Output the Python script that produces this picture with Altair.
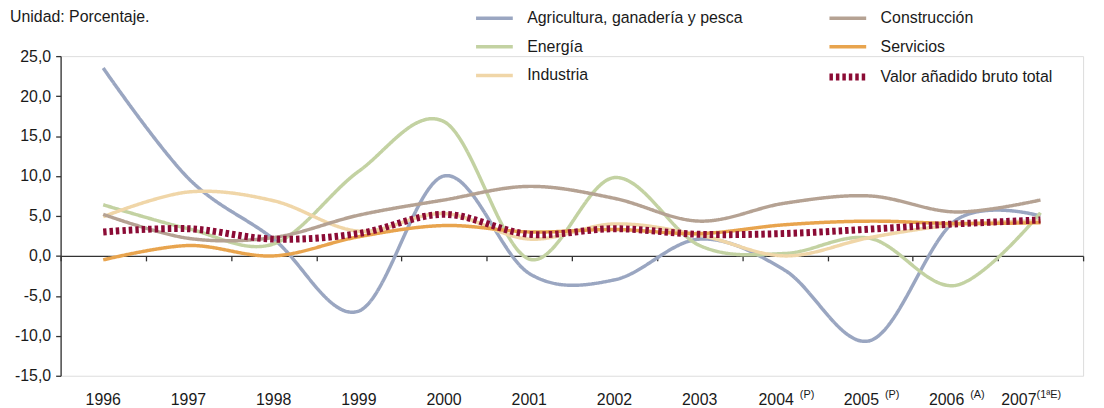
import altair as alt
import pandas as pd

# ---------------- data ----------------
years = [1996, 1997, 1998, 1999, 2000, 2001, 2002, 2003, 2004, 2005, 2006, 2007]
year_labels = ["1996", "1997", "1998", "1999", "2000", "2001", "2002", "2003",
               "2004", "2005", "2006", "2007"]
year_sups = ["", "", "", "", "", "", "", "", "(P)", "(P)", "(A)", "(1ªE)"]

agricultura = [23.5, 9.7, 2.1, -6.9, 10.0, -2.2, -3.0, 2.1, -1.8, -10.6, 4.4, 5.0]
energia = [6.4, 3.4, 1.5, 10.6, 16.8, -0.4, 9.8, 1.3, 0.3, 2.2, -3.7, 5.4]
industria = [4.9, 8.0, 6.9, 3.1, 5.3, 2.1, 4.0, 2.6, 0.0, 2.3, 3.9, 4.4]
construccion = [5.2, 2.2, 2.3, 5.1, 7.0, 8.7, 7.2, 4.35, 6.6, 7.5, 5.5, 7.0]
servicios = [-0.5, 1.3, 0.0, 2.4, 3.8, 3.0, 3.3, 2.8, 3.9, 4.35, 4.05, 4.15]
vab_total = [3.0, 3.4, 2.1, 2.8, 5.2, 2.7, 3.4, 2.7, 2.8, 3.35, 4.0, 4.5]

n_agri = "Agricultura, ganadería y pesca"
n_ener = "Energía"
n_ind = "Industria"
n_cons = "Construcción"
n_serv = "Servicios"
n_tot = "Valor añadido bruto total"

series = [(n_agri, agricultura), (n_ener, energia), (n_ind, industria),
          (n_cons, construccion), (n_serv, servicios), (n_tot, vab_total)]

rows = []
for name, vals in series:
    for yr, v in zip(years, vals):
        rows.append({"anio": yr, "serie": name, "valor": v})
df = pd.DataFrame(rows)
df_lines = df[df.serie != n_tot]
df_total = df[df.serie == n_tot]

lab_df = pd.DataFrame({"anio": years, "lab": year_labels, "sup": year_sups})
plain_df = lab_df[lab_df.sup == ""]
mid_df = lab_df[lab_df.anio.isin([2004, 2005, 2006])]
last_df = lab_df[lab_df.anio == 2007]

# legend order (column-major, 2 columns)
legend_order = [n_agri, n_ener, n_ind, n_cons, n_serv, n_tot]
color_map = {n_agri: "#9AA6C1", n_ener: "#C3D2A2", n_ind: "#F0D6A8",
             n_cons: "#B5A293", n_serv: "#E8A44E", n_tot: "#8B0B35"}

FONT = "Liberation Sans"
W, H = 1030, 322

color_scale = alt.Scale(domain=legend_order, range=[color_map[n] for n in legend_order])
dash_scale = alt.Scale(domain=legend_order,
                       range=[[3.5, 3] if n == n_tot else [1, 0] for n in legend_order])
width_scale = alt.Scale(type="ordinal", domain=legend_order,
                        range=[7 if n == n_tot else 3.5 for n in legend_order])

legend = alt.Legend(title=None, orient="none", legendX=415, legendY=-59,
                    columns=2, symbolType="stroke", symbolSize=1369,
                    labelFontSize=16, labelFont=FONT, labelColor="#1a1a1a",
                    columnPadding=72, rowPadding=0, labelOffset=11,
                    padding=0, labelLimit=400)

x_scale = alt.Scale(domain=[1995.5, 2007.5], nice=False, zero=False)
y_scale = alt.Scale(domain=[-15, 25], nice=False, zero=False)

x_axis = alt.Axis(values=[1995.5 + k for k in range(13)], labels=False, title=None,
                  grid=False, tickSize=5, domainColor="#333333", tickColor="#333333",
                  domainWidth=1.3, tickWidth=1.3, offset=-(H - H * 25 / 40))
y_axis = alt.Axis(values=[-15, -10, -5, 0, 5, 10, 15, 20, 25], title=None, grid=False,
                  labelExpr="replace(replace(format(datum.value, '.1f'), '.', ','), '\u2212', '-')",
                  tickSize=5, labelPadding=5, labelFontSize=16, labelFont=FONT,
                  labelColor="#1a1a1a", domainColor="#333333", tickColor="#333333",
                  domainWidth=1.3, tickWidth=1.3)

enc_common = dict(
    x=alt.X("anio:Q", scale=x_scale, axis=x_axis),
    y=alt.Y("valor:Q", scale=y_scale, axis=y_axis),
    color=alt.Color("serie:N", scale=color_scale, legend=legend),
    strokeDash=alt.StrokeDash("serie:N", scale=dash_scale, legend=legend),
    strokeWidth=alt.StrokeWidth("serie:N", scale=width_scale, legend=legend),
    detail="serie:N",
)

lines = alt.Chart(df_lines).mark_line(interpolate="cardinal", tension=0).encode(**enc_common)
total = alt.Chart(df_total).mark_line(interpolate="cardinal", tension=0).encode(**enc_common)

lab_y = 351
plain_lab = alt.Chart(plain_df).mark_text(fontSize=16, font=FONT, color="#1a1a1a",
                                          align="center", baseline="alphabetic").encode(
    x=alt.X("anio:Q", scale=x_scale), y=alt.value(lab_y), text="lab:N")
mid_lab = alt.Chart(mid_df).mark_text(fontSize=16, font=FONT, color="#1a1a1a",
                                      align="right", dx=9, baseline="alphabetic").encode(
    x=alt.X("anio:Q", scale=x_scale), y=alt.value(lab_y), text="lab:N")
mid_sup = alt.Chart(mid_df).mark_text(fontSize=11, font=FONT, color="#1a1a1a",
                                      align="left", dx=15, dy=-7, baseline="alphabetic").encode(
    x=alt.X("anio:Q", scale=x_scale), y=alt.value(lab_y), text="sup:N")
last_lab = alt.Chart(last_df).mark_text(fontSize=16, font=FONT, color="#1a1a1a",
                                        align="right", dx=-4, baseline="alphabetic").encode(
    x=alt.X("anio:Q", scale=x_scale), y=alt.value(lab_y), text="lab:N")
last_sup = alt.Chart(last_df).mark_text(fontSize=11, font=FONT, color="#1a1a1a",
                                        align="left", dx=-4, dy=-7, baseline="alphabetic").encode(
    x=alt.X("anio:Q", scale=x_scale), y=alt.value(lab_y), text="sup:N")

title_df = pd.DataFrame({"t": ["Unidad: Porcentaje."]})
title = alt.Chart(title_df).mark_text(fontSize=16, font=FONT, color="#1a1a1a",
                                      align="left", baseline="alphabetic").encode(
    x=alt.value(-51), y=alt.value(-34), text="t:N")

chart = alt.layer(lines, total, plain_lab, mid_lab, mid_sup, last_lab, last_sup, title).properties(
    width=W, height=H,
    padding={"left": 53, "top": 47, "right": 13, "bottom": 31},
    autosize=alt.AutoSizeParams(type="none"),
).configure_view(stroke=None).configure(font=FONT, background="white")

chart.save("out.html", embed_options={"renderer": "svg", "actions": False})
